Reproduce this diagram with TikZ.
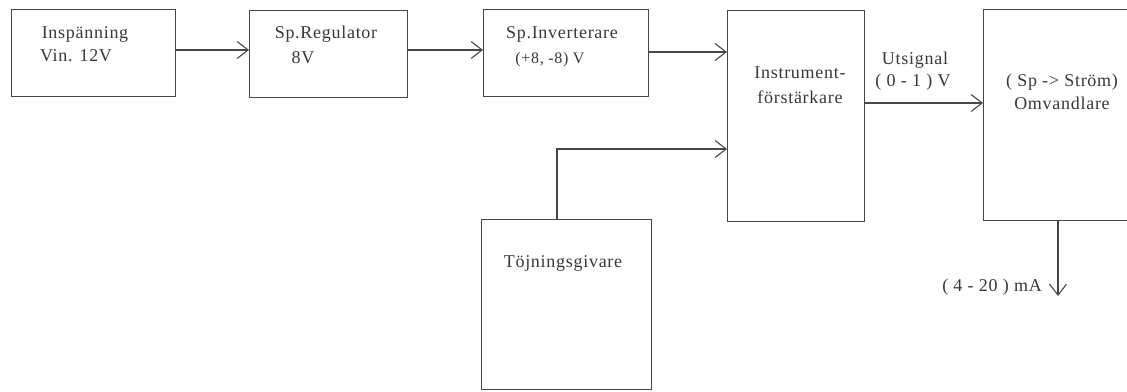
\documentclass[tikz,border=0pt]{standalone}
\usepackage{fontspec}
\setmainfont{Liberation Serif}[LetterSpace=4]
\usetikzlibrary{arrows.meta}
\begin{document}
\begin{tikzpicture}[x=1pt,y=-1pt,
  box/.style={draw=black!72, line width=1.1pt, inner sep=0pt, anchor=north west},
  lbl/.style={font=\fontsize{18}{21}\selectfont, inner sep=0pt, text=black!78},
  arr/.style={draw=black!72, line width=1.1pt, -{Straight Barb[length=11pt,width=17pt,line width=1.1pt]}}]
\useasboundingbox[fill=white] (0,0) rectangle (1127,391);
% boxes
\node[box, minimum width=164pt, minimum height=87pt] (b1) at (11,9) {};
\node[box, minimum width=158pt, minimum height=87pt] (b2) at (249,10) {};
\node[box, minimum width=165pt, minimum height=87pt] (b3) at (483,9) {};
\node[box, minimum width=137pt, minimum height=211pt] (b4) at (727,10) {};
\node[box, minimum width=158pt, minimum height=211pt] (b5) at (983,9) {};
\node[box, minimum width=170pt, minimum height=170pt] (b6) at (481,219) {};
% texts
\node[lbl] (t1a) at (85,34) {Inspänning};
\node[lbl] (t1b) at (76,56) {Vin. 12V};
\node[lbl] (t2a) at (326,34) {Sp.Regulator};
\node[lbl] (t2b) at (303,58) {8V};
\node[lbl] (t3a) at (562,34) {Sp.Inverterare};
\node[lbl, font=\fontsize{16}{20}\selectfont] (t3b) at (550,60) {(+8, -8)\ V};
\node[lbl] (t4a) at (800,73) {Instrument-};
\node[lbl] (t4b) at (800,97) {förstärkare};
\node[lbl] (t5a) at (1062,82) {( Sp -> Ström)};
\node[lbl] (t5b) at (1062,103) {Omvandlare};
\node[lbl] (t6) at (563,263) {Töjningsgivare};
\node[lbl] (u1) at (915,60) {Utsignal};
\node[lbl] (u2) at (913,82) {( 0 - 1 ) V};
% connector coordinates
\coordinate (p1) at (175,50);
\coordinate (p2) at (407,50);
\coordinate (p3) at (648,52);
\coordinate (p4) at (864,103);
\coordinate (p6) at (557,219);
\coordinate (p6b) at (557,149);
\coordinate (p5) at (1058,220);
\coordinate (out) at (1058,296);
\node[lbl, anchor=east] (ma) at (1042,287) {( 4 - 20 ) mA};
% connectors
\draw[arr] (p1) -- (p1 -| b2.west);
\draw[arr] (p2) -- (p2 -| b3.west);
\draw[arr] (p3) -- (p3 -| b4.west);
\draw[arr] (p4) -- (p4 -| b5.west);
\draw[arr] (p6) -- (p6b) -- (p6b -| b4.west);
\draw[arr] (p5) -- (out);
\end{tikzpicture}
\end{document}
